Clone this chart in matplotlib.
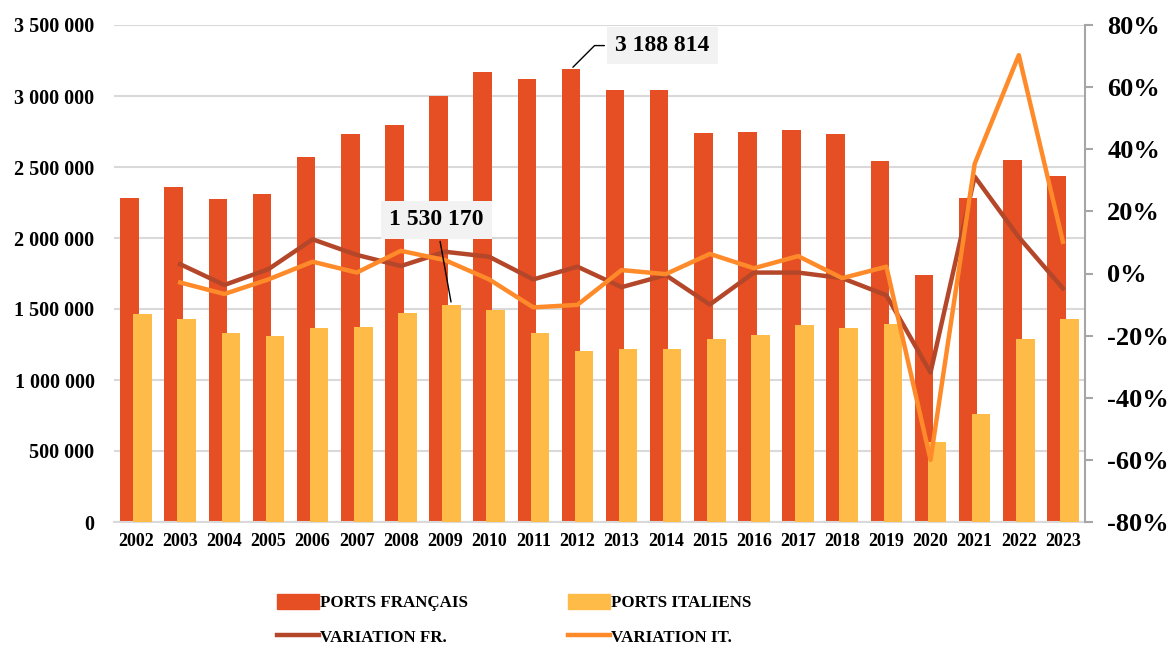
import matplotlib
matplotlib.use("Agg")
import matplotlib.pyplot as plt
import numpy as np
from matplotlib.patches import Patch
from matplotlib.lines import Line2D
from matplotlib.ticker import FuncFormatter, MultipleLocator

# data
years = [str(y) for y in range(2002, 2024)]
ports_fr = [2280000, 2358000, 2277000, 2312000, 2570000, 2732000, 2798000, 3002000,
            3168000, 3119000, 3188814, 3041000, 3039000, 2736000, 2748000, 2762000,
            2732000, 2544000, 1736000, 2281000, 2548000, 2434000]
ports_it = [1464000, 1427000, 1333000, 1312000, 1363000, 1375000, 1471000, 1530170,
            1495000, 1330000, 1201000, 1215000, 1215000, 1291000, 1314000, 1389000,
            1366000, 1396000, 560000, 760000, 1291000, 1429000]
# variations from 2003 on (%)
var_fr = [3.0, -3.7, 1.4, 11.0, 6.0, 2.4, 7.0, 5.4, -1.9, 2.2, -4.4, -0.5, -10.0,
          0.3, 0.3, -1.5, -7.0, -31.9, 31.2, 11.7, -4.8]
var_it = [-2.9, -6.6, -1.9, 3.8, 0.3, 7.3, 4.3, -1.9, -10.9, -10.1, 1.1, -0.2, 6.3,
          1.7, 5.6, -1.5, 2.2, -60.0, 35.3, 70.3, 10.2]

c_fr = "#E64E24"
c_it = "#FFBB47"
c_vfr = "#B4472A"
c_vit = "#FF8A2A"
serif = "Liberation Serif"

fig = plt.figure(figsize=(11.71, 6.46), dpi=100)
ax = fig.add_axes([114/1171, 1-522/646, (1085-114)/1171, (522-25)/646])
x = np.arange(len(years))
w = 0.42
off = 0.147
ax.bar(x - off, ports_fr, w, color=c_fr, zorder=2)
ax.bar(x + off, ports_it, w, color=c_it, zorder=3)

ax.set_xlim(-0.5, len(years) - 0.5)
ax.set_ylim(0, 3500000)
ax.yaxis.set_major_locator(MultipleLocator(500000))
ax.yaxis.set_major_formatter(FuncFormatter(lambda v, p: f"{int(v):,}".replace(",", " ")))
ax.grid(axis="y", color="#D9D9D9", lw=1.5, zorder=0)
ax.set_axisbelow(True)
for s in ["top", "left", "right"]:
    ax.spines[s].set_visible(False)
ax.spines["bottom"].set_color("#D9D9D9")
ax.spines["bottom"].set_linewidth(1.5)
ax.set_xticks(x)
ax.set_xticklabels(years)
ax.tick_params(axis="y", length=0, pad=14)
ax.tick_params(axis="x", length=0, pad=8)
for t in ax.get_yticklabels():
    t.set_fontfamily(serif); t.set_fontweight("bold"); t.set_fontsize(14.5)
for t in ax.get_xticklabels():
    t.set_fontfamily(serif); t.set_fontweight("bold"); t.set_fontsize(13)

ax2 = ax.twinx()
ax2.plot(x[1:], var_fr, color=c_vfr, lw=3.2, zorder=4)
ax2.plot(x[1:], var_it, color=c_vit, lw=3.2, zorder=5)
ax2.set_ylim(-80, 80)
ax2.yaxis.set_major_locator(MultipleLocator(20))
ax2.yaxis.set_major_formatter(FuncFormatter(lambda v, p: f"{v:.0f}%"))
for s in ["top", "left", "bottom"]:
    ax2.spines[s].set_visible(False)
ax2.spines["right"].set_color("#A6A6A6")
ax2.spines["right"].set_linewidth(1.5)
ax2.tick_params(axis="y", length=6, width=1.5, color="#A6A6A6", direction="out", pad=10)
for t in ax2.get_yticklabels():
    t.set_fontfamily(serif); t.set_fontweight("bold"); t.set_fontsize(19)

box = dict(boxstyle="square,pad=0.35", fc="#F2F2F2", ec="none")
ax2.annotate("3 188 814", xy=(10 - off, ports_fr[10]), xycoords=ax.transData,
             xytext=(66, 17), textcoords="offset points", ha="center", va="center",
             fontsize=17, fontfamily=serif, fontweight="bold", bbox=box,
             arrowprops=dict(arrowstyle="-", color="black", lw=1,
                             connectionstyle="angle,angleA=0,angleB=45,rad=0"),
             zorder=10)
ax2.annotate("1 530 170", xy=(7 + off, ports_it[7]), xycoords=ax.transData,
             xytext=(-11, 61), textcoords="offset points", ha="center", va="center",
             fontsize=17, fontfamily=serif, fontweight="bold", bbox=box,
             arrowprops=dict(arrowstyle="-", color="black", lw=1),
             zorder=10)

handles = [Patch(color=c_fr), Line2D([], [], color=c_vfr, lw=3.2),
           Patch(color=c_it), Line2D([], [], color=c_vit, lw=3.2)]
labels = ["PORTS FRANÇAIS", "VARIATION FR.", "PORTS ITALIENS", "VARIATION IT."]
fig.legend(handles, labels, ncol=2, loc="upper left",
           bbox_to_anchor=(277/1171, 1-594/646), frameon=False,
           borderpad=0, borderaxespad=0, handlelength=2.45, handleheight=1.0,
           handletextpad=0.1, columnspacing=5.9, labelspacing=1.0,
           prop=dict(family=serif, weight="bold", size=12.2))

fig.savefig("out.png", dpi=100)
